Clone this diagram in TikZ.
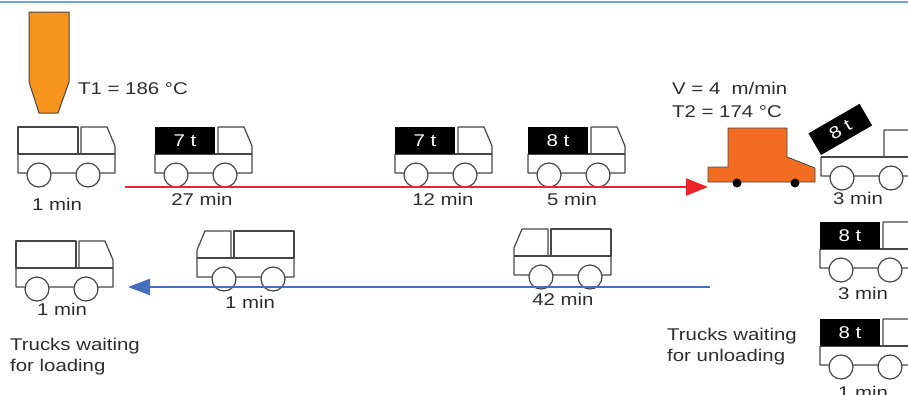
\documentclass[tikz,border=0pt]{standalone}
\usepackage{fontspec}
\setmainfont{Liberation Sans}[FakeStretch=1.2]
\usetikzlibrary{arrows.meta}

\definecolor{siloorange}{RGB}{247,148,29}
\definecolor{paverorange}{RGB}{242,108,33}
\definecolor{linegray}{RGB}{70,70,70}
\definecolor{textgray}{RGB}{45,45,45}
\definecolor{haulred}{RGB}{236,36,40}
\definecolor{returnblue}{RGB}{68,110,190}
\definecolor{frameblue}{RGB}{110,165,220}

\tikzset{
  truckline/.style={linegray, line width=1.2pt, line join=round},
  wheel/.style={truckline, fill=white},
  lbl/.style={textgray, font=\fontsize{17}{21}\selectfont, inner sep=0pt},
  loadlbl/.style={white, font=\fontsize{17}{21}\selectfont, inner sep=0pt},
  % truck body with cab on the right, origin at bottom left
  pics/chassis/.style={code={
    \draw[truckline] (0,-19) -- (0,0) -- (97,0) -- (97,-27) -- (89,-46) -- (63,-46) -- (63,-19);
    \draw[truckline] (0,-19) -- (97,-19);
    \draw[wheel] (21,2) circle (12);
    \draw[wheel] (70,2) circle (12);
  }},
  pics/box/.style={code={
    \draw[truckline] (0,-19) rectangle (60,-46);
  }},
  pics/load/.style={code={
    \fill[black] (0,-19) rectangle (60,-46);
    \node[loadlbl] (-w) at (30,-32.5) {#1};
  }},
}

\begin{document}
\begin{tikzpicture}[x=1pt, y=-1pt]
    \clip (0,0) rectangle (908,394);

    % Frame line
    \draw[frameblue, line width=1.5pt] (0,2) -- (908,2);

    % Silo
    \filldraw[fill=siloorange, draw=linegray, line width=1pt]
        (29,12) -- (69,12) -- (69,82) -- (58,113) -- (39,113) -- (29,82) -- cycle;
    \node[lbl, anchor=west] (tone) at (78,89) {T1 = 186 °C};

    % Paver
    \filldraw[fill=paverorange, draw=linegray, line width=0.8pt]
        (728,128) -- (787,128) -- (787,157) -- (815,168) -- (815,182)
        -- (708,182) -- (708,167) -- (728,167) -- cycle;
    \fill[black] (737,183) circle (4.5) (795,183) circle (4.5);
    \node[lbl, anchor=west] (speed) at (672,88) {V = 4~~m/min};
    \node[lbl, anchor=west] (ttwo) at (672,112) {T2 = 174 °C};

    % Trucks driving to the paver
    \pic (ta) at (18,173) {chassis};  \pic (tab) at (18,173) {box};
    \pic (tb) at (155,173) {chassis}; \pic (tbl) at (155,173) {load={7 t}};
    \pic (tc) at (395,173) {chassis}; \pic (tcl) at (395,173) {load={7 t}};
    \pic (td) at (528,173) {chassis}; \pic (tdl) at (528,173) {load={8 t}};

    % Trucks at the paver
    \pic (te) at (821,176) {chassis};
    \begin{scope}[shift={(821,155)}, rotate=30]
        \fill[black] (0,0) rectangle (59,-25);
        \node[loadlbl, rotate=30] (tilt) at (29.5,-12.5) {8 t};
    \end{scope}
    \pic (tf) at (820,268) {chassis}; \pic (tfl) at (820,268) {load={8 t}};
    \pic (tg) at (820,365) {chassis}; \pic (tgl) at (820,365) {load={8 t}};

    % Trucks driving back
    \pic (th) at (16,287) {chassis};  \pic (thb) at (16,287) {box};
    \pic[xscale=-1] (ti) at (294,277) {chassis}; \pic[xscale=-1] (tib) at (294,277) {box};
    \pic[xscale=-1] (tj) at (611,275) {chassis}; \pic[xscale=-1] (tjb) at (611,275) {box};

    % Haul and return arrows
    \coordinate (haulstart) at (125,187);
    \coordinate (haulend) at (708,187);
    \draw[haulred, line width=2.5pt, -{Triangle[length=22pt,width=17pt]}] (haulstart) -- (haulend);
    \coordinate (retstart) at (710,287);
    \coordinate (retend) at (128,287);
    \draw[returnblue, line width=2.5pt, -{Triangle[length=22pt,width=16pt]}] (retstart) -- (retend);

    % Times
    \foreach \n/\x/\y/\t in {a/57/204/1 min, b/202/199/27 min, c/443/199/12 min, d/572/199/5 min,
                             e/858/198/3 min, f/863/293/3 min, g/863/392/1 min,
                             h/62/309/1 min, i/250/302/1 min, j/563/299/42 min}
        \node[lbl] (time\n) at (\x,\y) {\t};

    % Waiting queues
    \node[lbl, anchor=west, align=left] (waitload) at (10,356.5) {Trucks waiting\\for loading};
    \node[lbl, anchor=west, align=left] (waitunload) at (667,346.5) {Trucks waiting\\for unloading};
\end{tikzpicture}
\end{document}
